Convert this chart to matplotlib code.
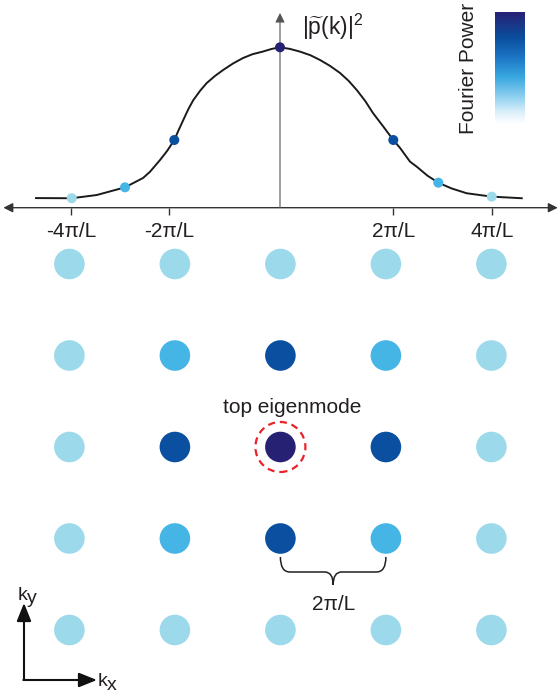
import matplotlib
matplotlib.use("Agg")
import numpy as np
import matplotlib.pyplot as plt
import matplotlib.cm as cm
from matplotlib.colors import LinearSegmentedColormap
from matplotlib.path import Path
from matplotlib.patches import PathPatch

plt.rcParams['font.family'] = ['Liberation Sans', 'DejaVu Sans']
plt.rcParams['mathtext.fontset'] = 'custom'
plt.rcParams['mathtext.rm'] = 'Liberation Sans'
plt.rcParams['mathtext.it'] = 'Liberation Sans:italic'

# power spectrum |p(k)|^2 along k (k in units of pi/L)
curve_k = [-4.436, -3.787, -3.333, -2.818, -2.491, -2.364, -2.182, -2.05, -1.922, -1.84,
           -1.758, -1.67, -1.576, -1.45, -1.333, -1.18, -1.036, -0.85, -0.673, -0.5,
           -0.315, -0.15, 0.0, 0.18, 0.364, 0.55, 0.727, 0.91, 1.091, 1.25,
           1.395, 1.55, 1.691, 1.88, 2.06, 2.182, 2.364, 2.485, 2.68, 2.878,
           3.12, 3.395, 3.849, 4.395]
curve_p = [0.060, 0.059, 0.079, 0.127, 0.185, 0.224, 0.297, 0.355, 0.422, 0.486,
           0.547, 0.612, 0.671, 0.730, 0.777, 0.822, 0.858, 0.900, 0.933, 0.957,
           0.973, 0.990, 1.0, 0.990, 0.973, 0.951, 0.921, 0.884, 0.840, 0.790,
           0.734, 0.665, 0.590, 0.505, 0.422, 0.373, 0.287, 0.256, 0.200, 0.156,
           0.120, 0.090, 0.069, 0.059]

# lattice modes sitting on the curve
mode_k = [-3.787, -2.818, -1.922, 0.0, 2.06, 2.878, 3.849]
mode_p = [0.059, 0.127, 0.422, 1.0, 0.422, 0.156, 0.069]
mode_level = [0, 1, 2, 3, 2, 1, 0]

tick_k = [-3.8, -2.02, 2.06, 3.85]
tick_labels = ['-4π/L', '-2π/L', '2π/L', '4π/L']

# 2D grid of modes, rows from top (ky=2) to bottom (ky=-2)
grid_k = [-2, -1, 0, 1, 2]
grid_level = [[0, 0, 0, 0, 0],
              [0, 1, 2, 1, 0],
              [0, 2, 3, 2, 0],
              [0, 1, 2, 1, 0],
              [0, 0, 0, 0, 0]]

level_colors = ['#9cd9eb', '#45b5e6', '#0b50a0', '#272174']

cbar_stops = [0.0, 0.095, 0.24, 0.42, 0.6, 0.78, 1.0]
cbar_colors = ['#ffffff', '#e0f1fa', '#8fd0ef', '#38a7e0', '#1b74c3', '#0b4c9c', '#272174']

W, H = 560, 696
FS = 15
fig = plt.figure(figsize=(W / 100, H / 100), dpi=100)

# ---- top panel: 1D spectrum ----
ax = fig.add_axes([0, 1 - 250 / H, 1, 250 / H])
ax.patch.set_alpha(0)
ax.set_xlim(-280 / 55, 280 / 55)
ax.set_ylim((207.7 - 250) / 160.4, 207.7 / 160.4)
ax.axis('off')

ax.annotate('', xy=(5.05, 0), xytext=(-5.03, 0),
            arrowprops=dict(arrowstyle='<|-|>', lw=1.0, color='#333333',
                            mutation_scale=14, shrinkA=0, shrinkB=0))
ax.annotate('', xy=(0, 1.214), xytext=(0, 0),
            arrowprops=dict(arrowstyle='-|>', lw=0.8, color='#555555',
                            mutation_scale=14, shrinkA=0, shrinkB=0))
ax.vlines(tick_k, -0.045, 0, color='#333333', lw=1.0)
for k, lab in zip(tick_k, tick_labels):
    ax.text(k, -0.181, lab, ha='center', va='baseline', fontsize=FS, color='#231f20')

ax.plot(curve_k, curve_p, color='#1a1a1a', lw=1.4, zorder=3, solid_joinstyle='round')
ax.scatter(mode_k, mode_p, s=52, c=[level_colors[l] for l in mode_level],
           edgecolors='none', zorder=4)
ax.text(0.4, 1.127, r'$\left|\widetilde{\mathrm{p}}(\mathrm{k})\right|^2$',
        ha='left', va='center', fontsize=16.5, color='#231f20')

# colour bar
cmap = LinearSegmentedColormap.from_list('fp', list(zip(cbar_stops, cbar_colors)))
cax = fig.add_axes([495 / W, (H - 124) / H, 30 / W, 112 / H])
cb = fig.colorbar(cm.ScalarMappable(cmap=cmap), cax=cax)
cb.outline.set_visible(False)
cb.set_ticks([])
fig.text(469 / W, 1 - 68 / H, 'Fourier Power', rotation=90, ha='center', va='center',
         fontsize=FS, color='#231f20')

# ---- bottom panel: 2D lattice of modes ----
ax2 = fig.add_axes([0, 0, 1, 1])
ax2.patch.set_alpha(0)
ax2.set_xlim(-280.4 / 105.5, (W - 280.4) / 105.5)
ax2.set_ylim((447 - H) / 91.5, 447 / 91.5)
ax2.axis('off')

kx, ky = np.meshgrid(grid_k, grid_k[::-1])
cols = [level_colors[l] for row in grid_level for l in row]
ax2.scatter(kx.ravel(), ky.ravel(), s=(30.6 * 0.72) ** 2, c=cols, edgecolors='none')
ax2.scatter([0], [0], s=(50 * 0.72) ** 2, facecolors='none', edgecolors='#e8232a',
            linewidths=1.6, linestyles=[(0, (3.2, 2.2))])
ax2.text(0.107, 0.368, 'top eigenmode', ha='center', va='baseline', fontsize=FS,
         color='#231f20')

# brace between two neighbouring modes
by, hy, ty = -1.202, -1.366, -1.508
verts = [(0, by), (0, hy), (0.09, hy), (0.42, hy), (0.5, hy), (0.5, ty),
         (0.5, hy), (0.58, hy), (0.91, hy), (1, hy), (1, by)]
codes = [Path.MOVETO, Path.CURVE3, Path.CURVE3, Path.LINETO, Path.CURVE3, Path.CURVE3,
         Path.CURVE3, Path.CURVE3, Path.LINETO, Path.CURVE3, Path.CURVE3]
ax2.add_patch(PathPatch(Path(verts, codes), fc='none', ec='#231f20', lw=1.1))
ax2.text(0.5, -1.78, '2π/L', ha='center', va='baseline', fontsize=FS, color='#231f20')

# kx / ky axes glyph
arr = dict(arrowstyle='-|>,head_length=0.5,head_width=0.2', lw=1.5, color='#111111',
           mutation_scale=22, shrinkA=0, shrinkB=0)
ax2.annotate('', xy=(24, H - 603), xytext=(24, H - 679), xycoords='figure pixels',
             textcoords='figure pixels', arrowprops=arr)
ax2.annotate('', xy=(97, H - 680), xytext=(23.3, H - 680), xycoords='figure pixels',
             textcoords='figure pixels', arrowprops=arr)
fig.text(18 / W, (H - 600) / H, 'k', fontsize=14, va='baseline', ha='left', color='#231f20')
fig.text(27 / W, (H - 603) / H, 'y', fontsize=14, va='baseline', ha='left', color='#231f20')
fig.text(98 / W, (H - 686) / H, 'k', fontsize=14, va='baseline', ha='left', color='#231f20')
fig.text(107 / W, (H - 690) / H, 'x', fontsize=14, va='baseline', ha='left', color='#231f20')

fig.savefig('out.png', dpi=100)
